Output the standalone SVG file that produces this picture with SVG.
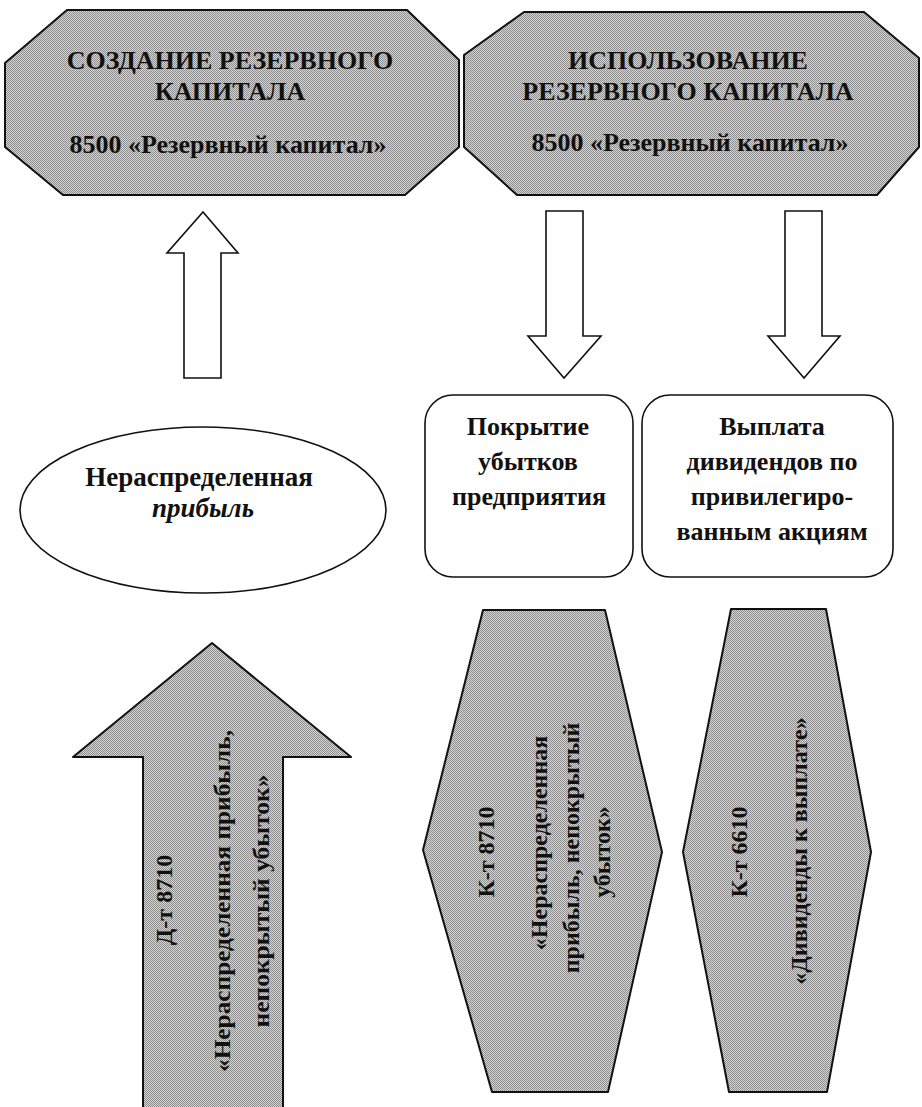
<svg xmlns="http://www.w3.org/2000/svg" width="922" height="1107" viewBox="0 0 922 1107">
<defs>
<pattern id="ht" width="2" height="2" patternUnits="userSpaceOnUse">
<rect width="2" height="2" fill="#d6d6d6"/>
<rect width="1" height="1" fill="#8c8c8c"/>
<rect x="1" y="1" width="1" height="1" fill="#8c8c8c"/>
</pattern>
</defs>
<style>
.gray{fill:url(#ht);stroke:#111;stroke-width:2;stroke-linejoin:round}
.hollow{fill:#fff;stroke:#111;stroke-width:1.6;stroke-linejoin:miter}
.t{font-family:"Liberation Serif","Times New Roman",serif;font-weight:bold;fill:#111;text-anchor:middle}
.h{font-size:26px}
.b{font-size:26px}
.e{font-size:27px}
.r{font-size:24px}
</style>
<rect width="922" height="1107" fill="#fff"/>
<g id="create-reserve">
<path class="gray" d="M67,10 L407,10 L459,60 L459,147 L405,195 L63,195 L5,147 L5,63 Z"/>
<text class="t h" x="230" y="69">СОЗДАНИЕ РЕЗЕРВНОГО</text>
<text class="t h" x="230" y="100">КАПИТАЛА</text>
<text class="t h" x="228" y="153">8500 «Резервный капитал»</text>
</g>
<g id="use-reserve">
<path class="gray" d="M524,12 L864,12 L919,58 L919,147 L877,195 L517,195 L464,147 L464,55 Z"/>
<text class="t h" x="688" y="69">ИСПОЛЬЗОВАНИЕ</text>
<text class="t h" x="688" y="100">РЕЗЕРВНОГО КАПИТАЛА</text>
<text class="t h" x="690" y="151">8500 «Резервный капитал»</text>
</g>
<g id="connectors">
<path class="hollow" d="M184,378 L184,253 L167,253 L203,212 L238,253 L221,253 L221,378 Z"/>
<path class="hollow" d="M546,211 L583,211 L583,336 L601,336 L564,378 L528,336 L546,336 Z"/>
<path class="hollow" d="M785,211 L822,211 L822,336 L840,336 L804,378 L768,336 L785,336 Z"/>
</g>
<g id="retained-earnings">
<ellipse cx="203" cy="510" rx="183" ry="83" fill="#fff" stroke="#111" stroke-width="1.6"/>
<text class="t e" x="199" y="486">Нераспределенная</text>
<text class="t e" x="203" y="517" font-style="italic">прибыль</text>
</g>
<g id="cover-losses">
<rect x="425" y="395" width="208" height="182" rx="28" ry="28" fill="#fff" stroke="#111" stroke-width="1.6"/>
<text class="t b" x="528" y="435">Покрытие</text>
<text class="t b" x="528" y="470">убытков</text>
<text class="t b" x="529" y="505">предприятия</text>
</g>
<g id="pay-dividends">
<rect x="642" y="395" width="251" height="182" rx="28" ry="28" fill="#fff" stroke="#111" stroke-width="1.6"/>
<text class="t b" x="772" y="435">Выплата</text>
<text class="t b" x="772" y="470">дивидендов по</text>
<text class="t b" x="772" y="505">привилегиро-</text>
<text class="t b" x="772" y="540">ванным акциям</text>
</g>
<g id="debit-8710">
<path class="gray" d="M143,1110 L143,757 L73,757 L212,643 L351,757 L283,757 L283,1110 Z"/>
<text class="t r" transform="translate(172,900) rotate(-90)">Д-т 8710</text>
<text class="t r" transform="translate(230,901) rotate(-90)" textLength="342" lengthAdjust="spacingAndGlyphs">«Нераспределенная прибыль,</text>
<text class="t r" transform="translate(269,901) rotate(-90)" textLength="253" lengthAdjust="spacingAndGlyphs">непокрытый убыток»</text>
</g>
<g id="credit-8710">
<path class="gray" d="M483,610 L605,610 L662,852 L608,1092 L492,1092 L423,850 Z"/>
<text class="t r" transform="translate(494,852) rotate(-90)">К-т 8710</text>
<text class="t r" transform="translate(547,843) rotate(-90)">«Нераспределенная</text>
<text class="t r" transform="translate(579,848) rotate(-90)">прибыль, непокрытый</text>
<text class="t r" transform="translate(610,852) rotate(-90)">убыток»</text>
</g>
<g id="credit-6610">
<path class="gray" d="M731,609 L826,609 L871,852 L827,1092 L729,1092 L683,852 Z"/>
<text class="t r" transform="translate(747,852) rotate(-90)">К-т 6610</text>
<text class="t r" transform="translate(807,851) rotate(-90)">«Дивиденды к выплате»</text>
</g>
</svg>
